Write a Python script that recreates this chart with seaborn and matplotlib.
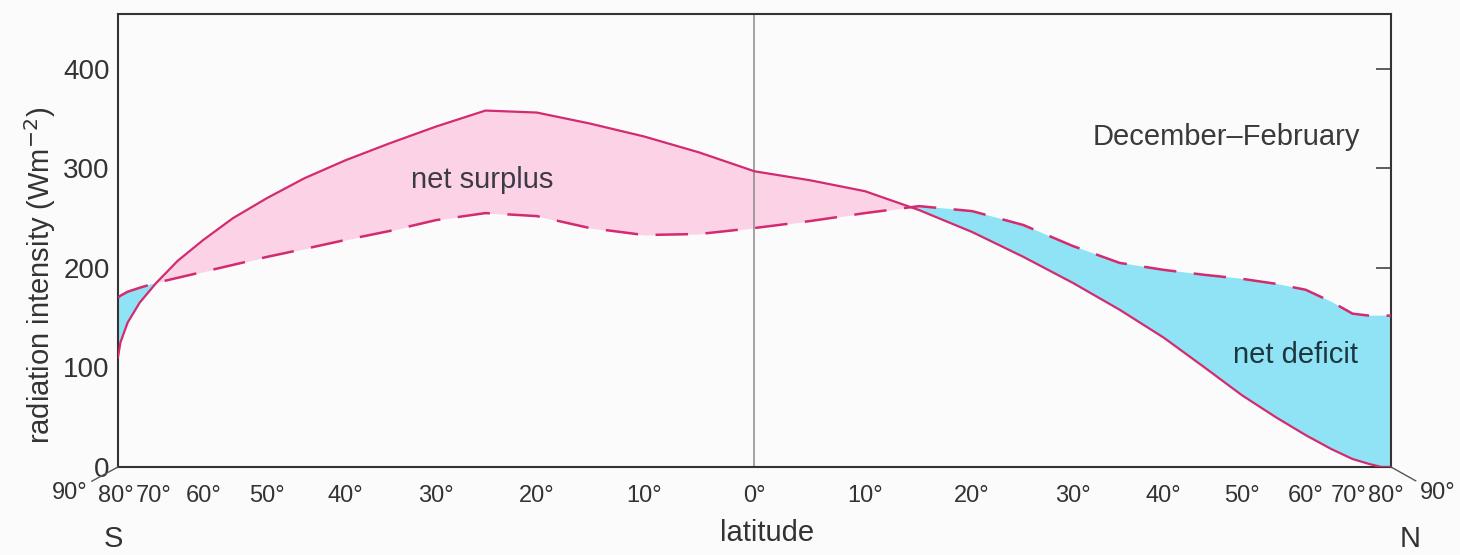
import numpy as np
import pandas as pd
import matplotlib.pyplot as plt
import seaborn as sns
from matplotlib.transforms import ScaledTranslation

# latitude (deg, south negative) and zonal mean radiation, Dec-Feb
lats = list(range(-90, 91, 5))
solar = [110, 125, 145, 165, 185, 207, 228, 250, 270, 290, 308, 325, 342, 358, 356,
         345, 332, 316, 297, 288, 277, 258, 236, 211, 185, 158, 130, 100, 72, 50,
         32, 18, 8, 3, 0, 0, 0]
olr = [170, 172, 176, 180, 185, 190, 196, 203, 211, 219, 228, 237, 248, 255, 252,
       240, 233, 234, 240, 247, 255, 262, 257, 243, 222, 205, 198, 193, 189, 184,
       178, 166, 154, 152, 152, 152, 152]

tick_lats = [-80, -70, -60, -50, -40, -30, -20, -10, 0, 10, 20, 30, 40, 50, 60, 70, 80]
tick_labels = ["80°", "70°", "60°", "50°", "40°", "30°", "20°", "10°", "0°",
               "10°", "20°", "30°", "40°", "50°", "60°", "70°", "80°"]
y_ticks = [0, 100, 200, 300, 400]

line_col = "#d42a70"
pink = "#fcd3e6"
cyan = "#8fe3f4"
ink = "#333333"

df = pd.DataFrame({"lat": lats, "solar": solar, "olr": olr})
# area-weighted latitude axis
df["s"] = np.sin(np.radians(df["lat"]))

sns.set_style("white")
plt.rcParams["font.family"] = ["Liberation Sans", "DejaVu Sans"]

fig, ax = plt.subplots(figsize=(14.6, 5.55), dpi=100)
fig.patch.set_facecolor("#fbfbfb")
ax.set_facecolor("#fbfbfb")
fig.subplots_adjust(left=0.0808, right=0.9527, bottom=0.1586, top=0.9748)

ax.fill_between(df["s"], df["solar"], df["olr"], where=df["solar"] >= df["olr"],
                interpolate=True, color=pink, lw=0, zorder=1)
ax.fill_between(df["s"], df["solar"], df["olr"], where=df["solar"] <= df["olr"],
                interpolate=True, color=cyan, lw=0, zorder=1)
ax.axvline(0, color="#8a8a8a", lw=1.1, zorder=2)

sns.lineplot(data=df, x="s", y="solar", ax=ax, color=line_col, lw=1.6, zorder=3)
sns.lineplot(data=df, x="s", y="olr", ax=ax, color=line_col, lw=1.8,
             linestyle=(0, (13, 7)), zorder=3)

ax.set_xlim(-1, 1)
ax.set_ylim(0, 455)
ax.set_xticks(np.sin(np.radians(tick_lats)), tick_labels)
ax.set_yticks(y_ticks)
ax.tick_params(axis="x", direction="in", length=10, width=1.1, pad=13,
               labelsize=17, color=ink, labelcolor=ink)
ax.tick_params(axis="y", direction="in", length=11, width=1.1, pad=6,
               labelsize=20, color=ink, labelcolor=ink, right=True)
for sp in ax.spines.values():
    sp.set_color(ink)
    sp.set_linewidth(1.5)

# squeeze the crowded polar labels a little
shifts = {0: -12, 1: -3, 15: -4, 16: 5}
for i, lab in enumerate(ax.get_xticklabels()):
    if i in shifts:
        lab.set_transform(lab.get_transform()
                          + ScaledTranslation(shifts[i] / 100, 0, fig.dpi_scale_trans))

ax.set_xlabel("latitude", fontsize=21, color=ink)
ax.xaxis.set_label_coords(0.51, -0.115)
ax.set_ylabel("radiation intensity (Wm$^{-2}$)", fontsize=21, color=ink)
ax.yaxis.set_label_coords(-0.047, 0.424)

for xs, dx in [(-1, -35), (1, 34)]:
    ax.annotate("90°", xy=(xs, 0), xytext=(dx, -19), textcoords="offset points",
                ha="center", va="center", fontsize=17, color=ink, annotation_clip=False,
                arrowprops=dict(arrowstyle="-", color="#555555", lw=1.0,
                                shrinkA=1, shrinkB=0))

ax.text(-0.004, -0.16, "S", transform=ax.transAxes, ha="center", va="center",
        fontsize=21, color=ink)
ax.text(1.015, -0.16, "N", transform=ax.transAxes, ha="center", va="center",
        fontsize=21, color=ink)

ax.text(0.286, 0.634, "net surplus", transform=ax.transAxes, ha="center",
        va="center", fontsize=21, color="#3d3a48", zorder=4)
ax.text(0.925, 0.247, "net deficit", transform=ax.transAxes, ha="center",
        va="center", fontsize=21, color="#1c3640", zorder=4)
ax.text(0.871, 0.728, "December–February", transform=ax.transAxes, ha="center",
        va="center", fontsize=21, color="#3a3a3a", zorder=4)

fig.savefig("out.png", dpi=100, facecolor=fig.get_facecolor())
